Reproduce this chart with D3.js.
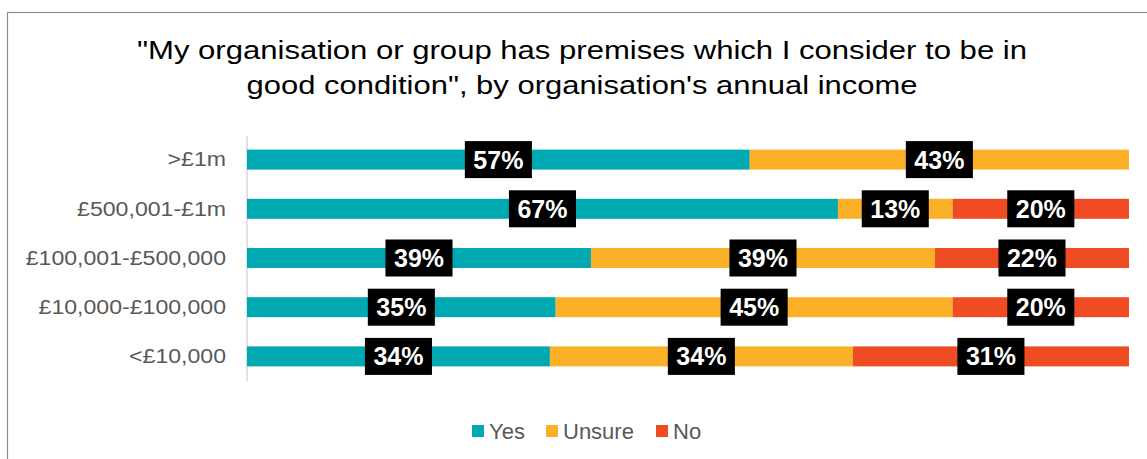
<!DOCTYPE html>
<html>
<head>
<meta charset="utf-8">
<script src="https://cdn.jsdelivr.net/npm/d3@7"></script>
<style>
  html, body { margin: 0; padding: 0; background: #fff; }
  svg { display: block; font-family: "Liberation Sans", Arial, sans-serif; }
</style>
</head>
<body>
<svg id="chart" width="1147" height="459"></svg>
<script>
// Premises condition by annual income band (% of respondents)
const categories = [">£1m", "£500,001-£1m", "£100,001-£500,000", "£10,000-£100,000", "<£10,000"];
const seriesNames = ["Yes", "Unsure", "No"];
const yesValues    = [57, 67, 39, 35, 34];
const unsureValues = [43, 13, 39, 45, 34];
const noValues     = [0, 20, 22, 20, 31];
const seriesColors = ["#00A9B2", "#FBB127", "#F04C24"];
const titleLines = ["\"My organisation or group has premises which I consider to be in",
                    "good condition\", by organisation's annual income"];
const titleWidths = [890, 671];

const rows = categories.map((c, i) => ({
  category: c,
  Yes: yesValues[i],
  Unsure: unsureValues[i],
  No: noValues[i]
}));

// 100% stacked: each row is scaled by its own total
const stacked = d3.stack()
  .keys(seriesNames)
  .offset(d3.stackOffsetExpand)(rows);

const svg = d3.select("#chart");

// outer frame
svg.append("rect")
  .attr("x", 7.5).attr("y", 12.5)
  .attr("width", 1160).attr("height", 470)
  .attr("fill", "none").attr("stroke", "#8c8c8c").attr("stroke-width", 1.2);

// title (wide set)
svg.append("g").selectAll("text")
  .data(titleLines)
  .join("text")
  .attr("x", 582)
  .attr("y", (d, i) => 58.5 + i * 35)
  .attr("text-anchor", "middle")
  .attr("font-size", 26)
  .attr("textLength", (d, i) => titleWidths[i])
  .attr("lengthAdjust", "spacingAndGlyphs")
  .attr("fill", "#000")
  .text(d => d);

const x = d3.scaleLinear().domain([0, 1]).range([247, 1129]);
const y = d3.scaleBand().domain(categories).range([135, 381]).paddingInner(0.594).paddingOuter(0.297);

// category axis
const labelStretch = 1.1;
const yAxis = svg.append("g")
  .attr("transform", `translate(${x(0)},0)`)
  .call(d3.axisLeft(y).tickSize(0).tickPadding(21));
yAxis.select(".domain").attr("stroke", "#d9d9d9").attr("stroke-width", 1.5)
  .attr("d", `M0,136V381`);
yAxis.selectAll("text")
  .attr("font-size", 21)
  .attr("fill", "#595959")
  .attr("font-family", "Liberation Sans, Arial, sans-serif")
  .attr("x", -21 / labelStretch)
  .attr("transform", `scale(${labelStretch},1)`);

// bars
const layers = svg.append("g").selectAll("g")
  .data(stacked)
  .join("g")
  .attr("fill", (d, i) => seriesColors[i]);

layers.selectAll("rect")
  .data(d => d.map(p => ({ p, category: p.data.category })))
  .join("rect")
  .attr("x", d => x(d.p[0]))
  .attr("y", d => y(d.category))
  .attr("width", d => Math.max(0, x(d.p[1]) - x(d.p[0])))
  .attr("height", y.bandwidth());

// value labels in black boxes
const labelData = [];
stacked.forEach((layer, si) => {
  layer.forEach(p => {
    const v = p.data[seriesNames[si]];
    if (v > 0) labelData.push({ cx: (x(p[0]) + x(p[1])) / 2, category: p.data.category, text: v + "%" });
  });
});

const labels = svg.append("g").selectAll("g")
  .data(labelData)
  .join("g")
  .attr("transform", d => `translate(${d.cx},${y(d.category) + y.bandwidth() / 2})`);

labels.append("text")
  .attr("text-anchor", "middle")
  .attr("dy", "0.36em")
  .attr("font-size", 25)
  .attr("font-weight", "bold")
  .attr("fill", "#fff")
  .text(d => d.text);

labels.each(function () {
  const g = d3.select(this);
  const bb = g.select("text").node().getBBox();
  g.insert("rect", "text")
    .attr("x", -bb.width / 2 - 8.5)
    .attr("y", -18.5)
    .attr("width", bb.width + 17)
    .attr("height", 37)
    .attr("fill", "#000");
});

// legend
const legendX = [472, 546, 656];
const legend = svg.append("g").selectAll("g")
  .data(seriesNames)
  .join("g")
  .attr("transform", (d, i) => `translate(${legendX[i]},425)`);
legend.append("rect")
  .attr("width", 12).attr("height", 12)
  .attr("fill", (d, i) => seriesColors[i]);
legend.append("text")
  .attr("x", 17).attr("y", 13.5)
  .attr("font-size", 22)
  .attr("fill", "#595959")
  .text(d => d);
</script>
</body>
</html>
